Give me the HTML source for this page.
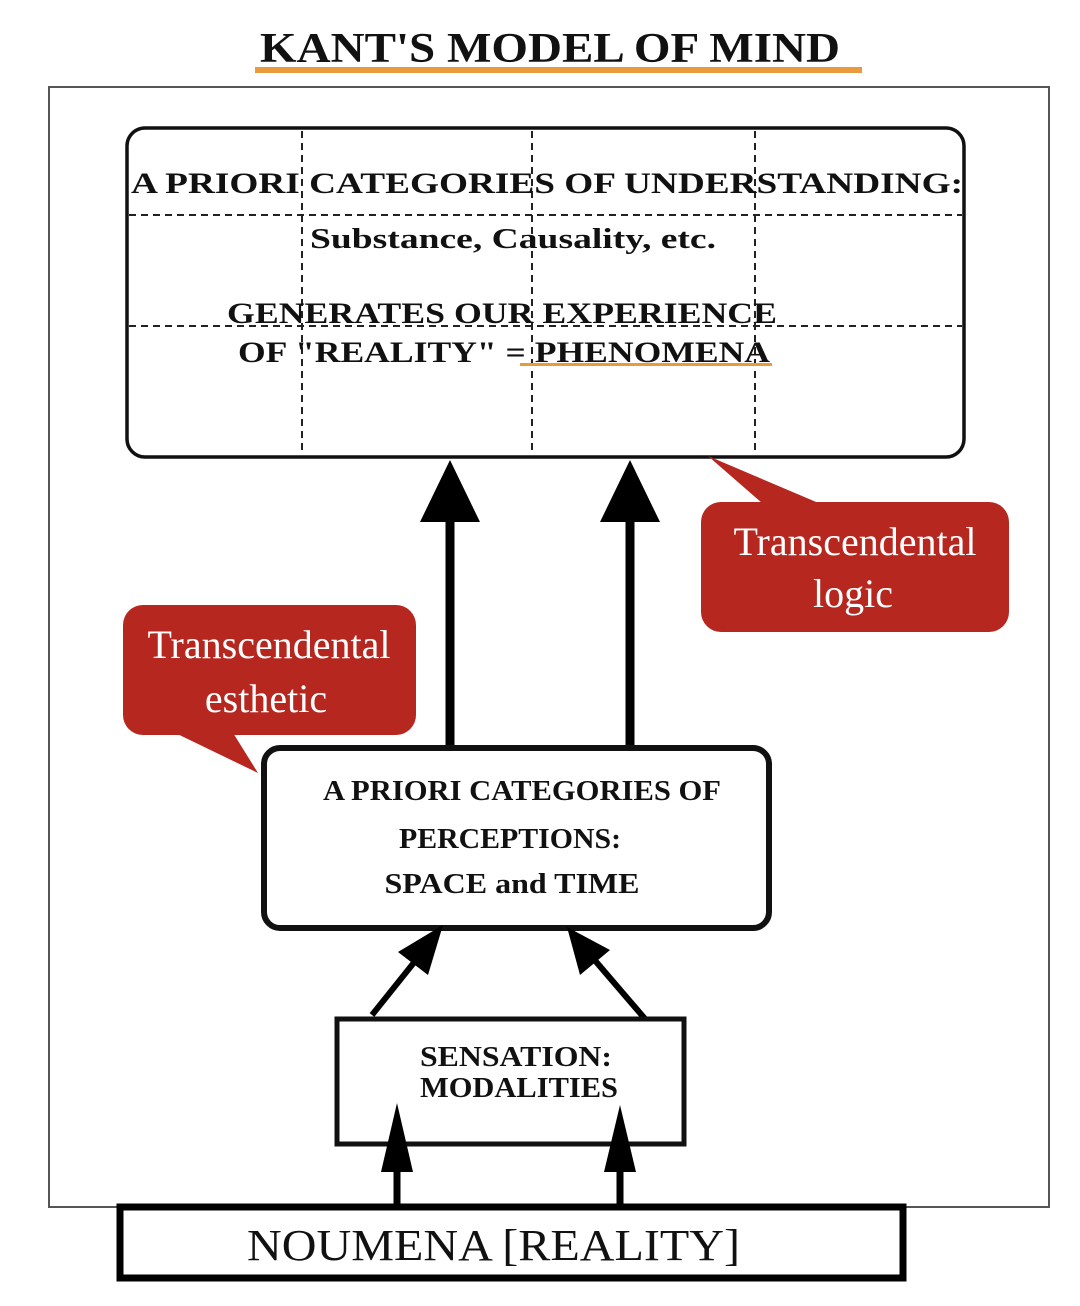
<!DOCTYPE html>
<html><head><meta charset="utf-8"><style>html,body{margin:0;padding:0;background:#fff}svg{display:block}</style></head>
<body>
<svg width="1080" height="1306" viewBox="0 0 1080 1306" xmlns="http://www.w3.org/2000/svg" font-family="'Liberation Serif', serif" font-weight="bold">
<rect width="1080" height="1306" fill="#fff"/>
<text x="550" y="62" font-size="42" text-anchor="middle" textLength="580" lengthAdjust="spacingAndGlyphs" fill="#111">KANT'S MODEL OF MIND</text>
<rect x="255" y="67" width="607" height="6" fill="#e89a3c"/>
<rect x="49" y="87" width="1000" height="1120" fill="none" stroke="#555" stroke-width="2"/>
<rect x="127" y="128" width="837" height="329" rx="18" fill="#fff" stroke="#111" stroke-width="3.5"/>
<g stroke="#222" stroke-width="2" stroke-dasharray="7,5">
<line x1="302" y1="131" x2="302" y2="455"/><line x1="532" y1="131" x2="532" y2="455"/><line x1="755" y1="131" x2="755" y2="455"/>
<line x1="129" y1="215" x2="962" y2="215"/><line x1="129" y1="326" x2="962" y2="326"/>
</g>
<g fill="#111" font-size="30">
<text x="131" y="193" textLength="832" lengthAdjust="spacingAndGlyphs">A PRIORI CATEGORIES OF UNDERSTANDING:</text>
<text x="310" y="248" font-size="28" textLength="406" lengthAdjust="spacingAndGlyphs">Substance, Causality, etc.</text>
<text x="227" y="323" textLength="550" lengthAdjust="spacingAndGlyphs">GENERATES OUR EXPERIENCE</text>
<text x="238" y="362" textLength="532" lengthAdjust="spacingAndGlyphs">OF "REALITY" = PHENOMENA</text>
</g>
<rect x="520" y="363" width="252" height="3" fill="#e89a3c"/>
<g fill="#000" stroke="#000">
<line x1="450" y1="745" x2="450" y2="515" stroke-width="9"/>
<line x1="630" y1="745" x2="630" y2="515" stroke-width="9"/>
<polygon points="450,460 420,522 480,522" stroke="none"/>
<polygon points="630,460 600,522 660,522" stroke="none"/>
</g>
<g fill="#b5271f">
<rect x="701" y="502" width="308" height="130" rx="20"/>
<polygon points="708,456 770,510 835,510"/>
<rect x="123" y="605" width="293" height="130" rx="20"/>
<polygon points="258,773 165,728 230,728"/>
</g>
<g fill="#fff" font-weight="normal" font-size="40" text-anchor="middle">
<text x="855" y="555">Transcendental</text><text x="853" y="607">logic</text>
<text x="269" y="658">Transcendental</text><text x="266" y="712">esthetic</text>
</g>
<rect x="264" y="748" width="505" height="180" rx="16" fill="#fff" stroke="#111" stroke-width="6"/>
<g fill="#111" font-size="28" text-anchor="middle">
<text x="522" y="800" textLength="398" lengthAdjust="spacingAndGlyphs">A PRIORI CATEGORIES OF</text>
<text x="510" y="848" textLength="222" lengthAdjust="spacingAndGlyphs">PERCEPTIONS:</text>
<text x="512" y="893" textLength="255" lengthAdjust="spacingAndGlyphs">SPACE  and  TIME</text>
</g>
<g fill="#000" stroke="#000">
<line x1="372" y1="1015" x2="420" y2="955" stroke-width="6"/>
<polygon points="443,925 398,952 428,975" stroke="none"/>
<line x1="646" y1="1020" x2="592" y2="957" stroke-width="6"/>
<polygon points="567,927 580,975 610,950" stroke="none"/>
</g>
<rect x="337" y="1019" width="347" height="125" fill="#fff" stroke="#111" stroke-width="5"/>
<g fill="#111" font-size="28">
<text x="420" y="1066" textLength="192" lengthAdjust="spacingAndGlyphs">SENSATION:</text>
<text x="420" y="1097" textLength="198" lengthAdjust="spacingAndGlyphs">MODALITIES</text>
</g>
<g fill="#000" stroke="#000">
<line x1="397" y1="1205" x2="397" y2="1165" stroke-width="7"/>
<line x1="620" y1="1205" x2="620" y2="1165" stroke-width="7"/>
<polygon points="397,1103 381,1172 413,1172" stroke="none"/>
<polygon points="620,1105 604,1172 636,1172" stroke="none"/>
</g>
<rect x="120" y="1207" width="783" height="71" fill="#fff" stroke="#000" stroke-width="7"/>
<text x="247" y="1260" font-size="44" font-weight="normal" fill="#111" textLength="493" lengthAdjust="spacingAndGlyphs">NOUMENA [REALITY]</text>
</svg>
</body></html>
